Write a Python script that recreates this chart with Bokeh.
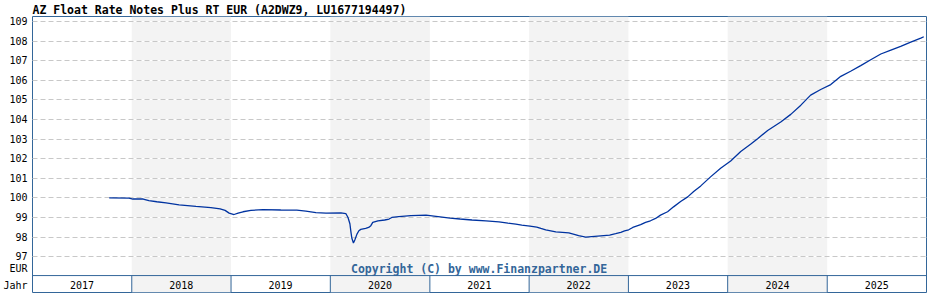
import pandas as pd
from bokeh.plotting import figure
from bokeh.models import FixedTicker, Grid, Range1d, Span, ColumnDataSource
from bokeh.embed import file_html
from bokeh.resources import INLINE
from bokeh.core.properties import value

# ---------------- data ----------------
chart_title = "AZ Float Rate Notes Plus RT EUR (A2DWZ9, LU1677194497)"
unit_label = "EUR"
year_row_label = "Jahr"
copyright_text = "Copyright (C) by www.Finanzpartner.DE"

dates = [
    "2017-10-10", "2017-12-22", "2018-01-05", "2018-02-12", "2018-03-05", "2018-04-03",
    "2018-05-07", "2018-06-24", "2018-08-25", "2018-10-19", "2018-11-22", "2018-12-10",
    "2018-12-25", "2019-01-12", "2019-01-27", "2019-02-14", "2019-03-15", "2019-04-28",
    "2019-07-03", "2019-08-31", "2019-10-03", "2019-11-09", "2019-12-16", "2020-02-09",
    "2020-02-27", "2020-03-06", "2020-03-13", "2020-03-17", "2020-03-20", "2020-03-26",
    "2020-03-31", "2020-04-08", "2020-04-15", "2020-04-22", "2020-05-10", "2020-05-21",
    "2020-05-29", "2020-06-05", "2020-06-24", "2020-07-19", "2020-08-04", "2020-08-14",
    "2020-09-09", "2020-10-23", "2020-12-18", "2021-01-16", "2021-02-15", "2021-03-16",
    "2021-04-22", "2021-06-05", "2021-07-26", "2021-09-12", "2021-10-15", "2021-11-13",
    "2021-12-05", "2022-01-04", "2022-01-29", "2022-02-13", "2022-03-03", "2022-04-09",
    "2022-05-27", "2022-07-02", "2022-07-28", "2022-09-10", "2022-10-24", "2022-11-15",
    "2022-12-04", "2022-12-18", "2023-01-02", "2023-01-17", "2023-02-15", "2023-03-05",
    "2023-03-23", "2023-04-11", "2023-04-29", "2023-05-25", "2023-06-16", "2023-07-12",
    "2023-08-07", "2023-08-29", "2023-09-24", "2023-10-30", "2023-12-06", "2024-01-12",
    "2024-02-18", "2024-03-25", "2024-04-20", "2024-05-27", "2024-07-14", "2024-08-20",
    "2024-09-26", "2024-11-01", "2024-12-08", "2025-01-14", "2025-02-20", "2025-03-28",
    "2025-05-04", "2025-06-10", "2025-07-17", "2025-08-23", "2025-09-28", "2025-11-04",
    "2025-12-11", "2025-12-22",
]
prices = [
    100.00, 99.99, 99.94, 99.94, 99.86, 99.80,
    99.74, 99.64, 99.56, 99.50, 99.44, 99.36,
    99.22, 99.15, 99.22, 99.29, 99.36, 99.40,
    99.38, 99.37, 99.32, 99.25, 99.22, 99.23,
    99.20, 99.00, 98.68, 98.24, 97.95, 97.70,
    97.85, 98.15, 98.32, 98.39, 98.44, 98.49,
    98.58, 98.75, 98.83, 98.87, 98.92, 99.00,
    99.04, 99.09, 99.12, 99.07, 99.02, 98.97,
    98.92, 98.87, 98.82, 98.77, 98.71, 98.66,
    98.61, 98.56, 98.51, 98.44, 98.36, 98.26,
    98.21, 98.07, 98.00, 98.05, 98.10, 98.17,
    98.24, 98.31, 98.37, 98.49, 98.63, 98.75,
    98.83, 98.95, 99.12, 99.29, 99.54, 99.81,
    100.05, 100.32, 100.61, 101.07, 101.51, 101.88,
    102.36, 102.73, 103.02, 103.44, 103.87, 104.26,
    104.73, 105.24, 105.53, 105.78, 106.20, 106.46,
    106.75, 107.05, 107.34, 107.54, 107.73, 107.95,
    108.15, 108.22,
]
years = [2017, 2018, 2019, 2020, 2021, 2022, 2023, 2024, 2025]
shaded_years = [2018, 2020, 2022, 2024]
y_ticks = [97, 98, 99, 100, 101, 102, 103, 104, 105, 106, 107, 108, 109]

# ---------------- layout constants ----------------
Y_TOP = 109.254
Y_BOT = 95.17
BAND_TOP = 96.034
UNIT_Y = 96.38
YEAR_Y = 95.55
FRAME_COLOR = "#336699"
LINE_COLOR = "#0033a0"
SHADE = "#f3f3f3"
MONO = "DejaVu Sans Mono"

x_start = pd.Timestamp(f"{years[0]}-01-01")
x_end = pd.Timestamp(f"{years[-1] + 1}-01-01")

p = figure(
    width=928, height=300,
    x_axis_type="datetime", x_axis_location=None,
    x_range=Range1d(x_start, x_end), y_range=Range1d(Y_BOT, Y_TOP),
    output_backend="svg", toolbar_location=None,
    min_border_left=31, min_border_right=2, min_border_bottom=8, min_border_top=0,
    title=chart_title,
)
p.background_fill_color = "white"
p.border_fill_color = "white"
p.outline_line_color = FRAME_COLOR
p.outline_line_width = 1

p.title.text_font = MONO
p.title.text_font_style = "bold"
p.title.text_font_size = "11.5px"
p.title.text_color = "black"
p.title.align = "left"
p.title.offset = 0
p.title.standoff = 0

# shaded year bands
shade_src = ColumnDataSource(dict(
    left=[pd.Timestamp(f"{y}-01-01") for y in shaded_years],
    right=[pd.Timestamp(f"{y + 1}-01-01") for y in shaded_years],
))
shade_r = p.quad(left="left", right="right", bottom=Y_BOT, top=Y_TOP, source=shade_src,
                 fill_color=SHADE, line_color=None)
shade_r.level = "image"

# grids: white solid underneath, grey dashed on top
p.xgrid.visible = False
p.ygrid.ticker = FixedTicker(ticks=y_ticks)
p.ygrid.grid_line_color = "white"
p.ygrid.grid_line_width = 1
dash_grid = Grid(dimension=1, ticker=FixedTicker(ticks=y_ticks),
                 grid_line_color="#c8c8c8", grid_line_dash="5 3", grid_line_width=1)
p.add_layout(dash_grid, "center")

# y axis with unit and row label
p.yaxis.ticker = FixedTicker(ticks=y_ticks + [UNIT_Y, YEAR_Y])
overrides = {t: str(t) for t in y_ticks}
overrides[UNIT_Y] = unit_label
overrides[YEAR_Y] = year_row_label
p.yaxis.major_label_overrides = overrides
p.yaxis.axis_line_color = None
p.yaxis.major_tick_line_color = None
p.yaxis.minor_tick_line_color = None
p.yaxis.major_tick_in = 0
p.yaxis.major_tick_out = 0
p.yaxis.major_label_standoff = 5
p.yaxis.major_label_text_font = MONO
p.yaxis.major_label_text_font_size = "10px"
p.yaxis.major_label_text_color = "black"

# year row
p.add_layout(Span(location=BAND_TOP, dimension="width", line_color=FRAME_COLOR, line_width=1))
sep_x = [pd.Timestamp(f"{y}-01-01") for y in years[1:]]
p.segment(x0=sep_x, y0=[Y_BOT] * len(sep_x), x1=sep_x, y1=[BAND_TOP] * len(sep_x),
          line_color=FRAME_COLOR, line_width=1)
year_src = ColumnDataSource(dict(
    x=[pd.Timestamp(f"{y}-07-02") for y in years],
    y=[YEAR_Y] * len(years),
    t=[str(y) for y in years],
))
p.text(x="x", y="y", text="t", source=year_src, text_align="center", text_baseline="middle",
       text_font=value(MONO), text_font_size="10px", text_color="black")

# copyright
p.text(x=[pd.Timestamp("2021-07-01")], y=[UNIT_Y], text=[copyright_text],
       text_align="center", text_baseline="middle", text_font=value(MONO),
       text_font_style="bold", text_font_size="11.5px", text_color=FRAME_COLOR)

# price line
p.line(x=pd.to_datetime(dates), y=prices, line_color=LINE_COLOR, line_width=1.3)

open("out.html", "w").write(file_html(p, INLINE))
